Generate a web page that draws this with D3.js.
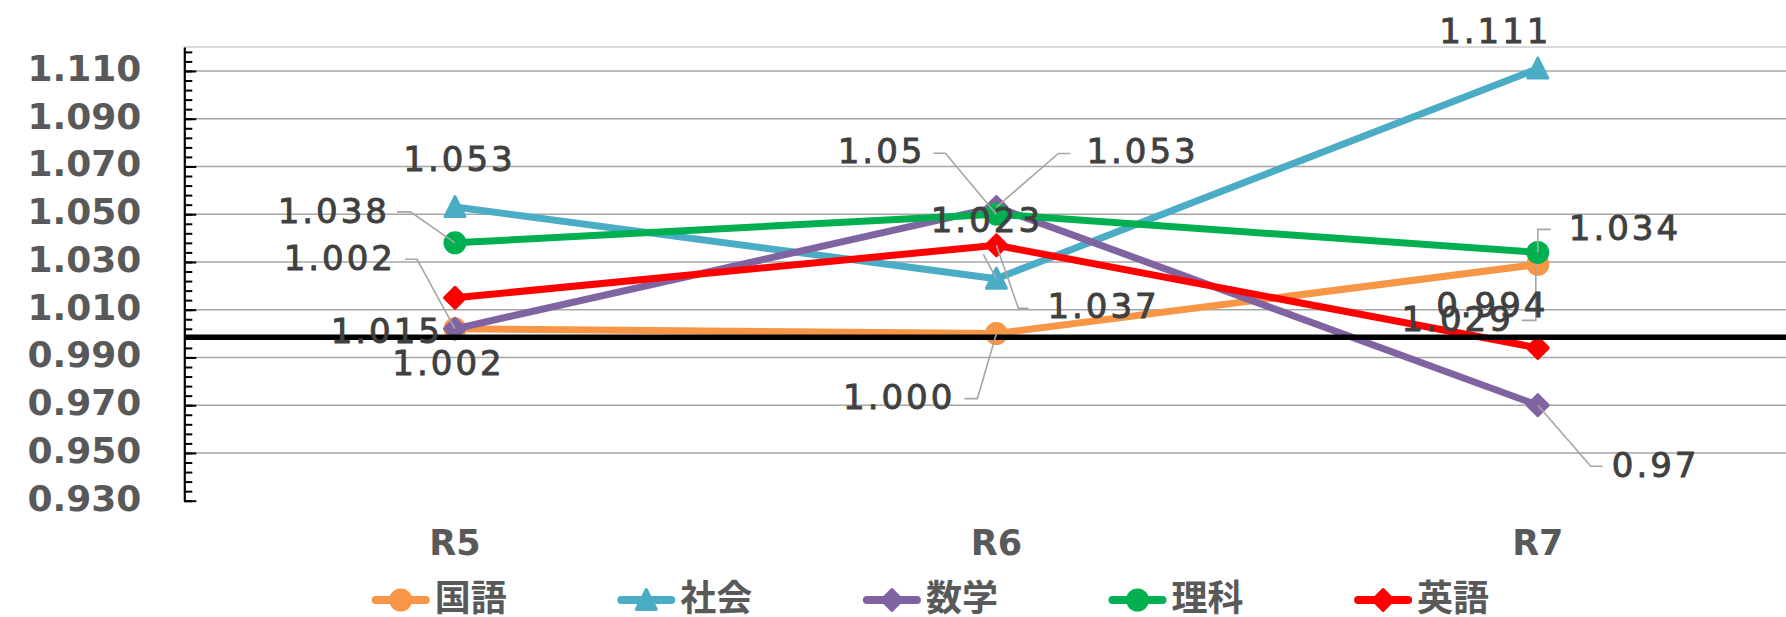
<!DOCTYPE html>
<html>
<head>
<meta charset="utf-8">
<script src="https://cdn.jsdelivr.net/npm/d3@7"></script>
<style>
  html, body { margin: 0; padding: 0; background: #fff; }
  svg { display: block; }
</style>
</head>
<body>
<script>
// ---- data ----
var categories = ["R5", "R6", "R7"];
var seriesNames = ["国語", "社会", "数学", "理科", "英語"];

var kokugo = [1.002, 1.000, 1.029];
var shakai = [1.053, 1.023, 1.111];
var sugaku = [1.002, 1.053, 0.970];
var rika   = [1.038, 1.050, 1.034];
var eigo   = [1.015, 1.037, 0.994];

// label texts as shown in the chart
var kokugoLabels = ["1.002", "1.000", "1.029"];
var shakaiLabels = ["1.053", "1.023", "1.111"];
var sugakuLabels = ["1.002", "1.053", "0.97"];
var rikaLabels   = ["1.038", "1.05", "1.034"];
var eigoLabels   = ["1.015", "1.037", "0.994"];

var yTicks = [0.930, 0.950, 0.970, 0.990, 1.010, 1.030, 1.050, 1.070, 1.090, 1.110];
var yMin = 0.93;
var yMax = 1.12;
var minorStep = 0.004;
var baseLine = 0.9985; // thick black reference line

// ---- layout ----
var W = 1786, H = 617;
var plotLeft = 184.3, plotRight = 1808.5, plotTop = 47.1, plotBottom = 500.7;
var gridColor = "#A6A6A6";
var labelColor = "#404040";
var axisTextColor = "#595959";
var numFont = "'DejaVu Sans', sans-serif";
var cjkFont = "'Noto Sans CJK JP', sans-serif";

var series = [
    {name: seriesNames[0], values: kokugo, labels: kokugoLabels, color: "#F79646", marker: "circle"},
    {name: seriesNames[1], values: shakai, labels: shakaiLabels, color: "#4BACC6", marker: "triangle"},
    {name: seriesNames[2], values: sugaku, labels: sugakuLabels, color: "#8064A2", marker: "diamond"},
    {name: seriesNames[3], values: rika,   labels: rikaLabels,   color: "#00B050", marker: "circle"},
    {name: seriesNames[4], values: eigo,   labels: eigoLabels,   color: "#FF0000", marker: "diamond"}
];

// where each data label sits relative to its point (a = anchor of the ink box)
var labelPos = {
    "国語": [
        {a: "middle", dx: -8, dy: 46},
        {a: "end", dx: -44, dy: 75, leader: [[0, 0], [-19, 65], [-32, 65]]},
        {a: "end", dx: -27, dy: 67, leader: [[-2, 0], [-2, 56], [-16, 56]]}
    ],
    "社会": [
        {a: "middle", dx: 3, dy: -36},
        {a: "middle", dx: -11, dy: -47, leader: [[0, 0], [-13, -24]]},
        {a: "middle", dx: -44, dy: -26}
    ],
    "数学": [
        {a: "end", dx: -62, dy: -59, leader: [[0, 0], [-38, -69.5], [-50, -69.5]]},
        {a: "start", dx: 90, dy: -44, leader: [[0, 0], [62, -53.6], [74, -53.6]]},
        {a: "start", dx: 74, dy: 72, leader: [[0, 0], [53, 61], [65, 61]]}
    ],
    "理科": [
        {a: "end", dx: -68, dy: -20, leader: [[0, 0], [-44.6, -31], [-58, -31]]},
        {a: "end", dx: -74, dy: -51, leader: [[0, 0], [-51, -61], [-63, -61]]},
        {a: "start", dx: 31, dy: -12, leader: [[0, 0], [0, -23], [13, -23]]}
    ],
    "英語": [
        {a: "end", dx: -15, dy: 45.5},
        {a: "start", dx: 51, dy: 73, leader: [[0, 0], [22, 63], [32, 63]]},
        {a: "middle", dx: -47, dy: -31}
    ]
};

var svg = d3.select("body").append("svg")
    .attr("width", W)
    .attr("height", H)
    .style("background-color", "#fff");

var x = d3.scaleBand().domain(categories).range([plotLeft, plotRight]);
var y = d3.scaleLinear().domain([yMin, yMax]).range([plotBottom, plotTop]);
var cx = function (c) { return x(c) + x.bandwidth() / 2; };

/**
 * gridlines
 */
svg.append("line")
    .attr("x1", plotLeft).attr("x2", W)
    .attr("y1", y(yMax)).attr("y2", y(yMax))
    .style("stroke", "#D9D9D9").style("stroke-width", 2);

svg.append("g").selectAll("line")
    .data(yTicks.slice(1))
    .enter().append("line")
    .attr("x1", plotLeft).attr("x2", W)
    .attr("y1", function (d) { return y(d); })
    .attr("y2", function (d) { return y(d); })
    .style("stroke", gridColor)
    .style("stroke-width", 1.6);

/**
 * y axis with minor ticks
 */
var minorTicks = d3.range(0, Math.round((yMax - yMin) / minorStep))
    .map(function (i) { return yMin + i * minorStep; });

var minorAxis = svg.append("g")
    .attr("transform", "translate(" + plotLeft + ",0)")
    .call(d3.axisLeft(y).tickValues(minorTicks).tickSize(-8).tickSizeOuter(0).tickFormat(""));
minorAxis.selectAll(".tick line").style("stroke", "#000").style("stroke-width", 2);
minorAxis.select(".domain").remove();

var yAxis = svg.append("g")
    .attr("transform", "translate(" + plotLeft + ",0)")
    .call(d3.axisLeft(y).tickValues(yTicks).tickSize(-12).tickSizeOuter(0)
        .tickPadding(43).tickFormat(d3.format(".3f")));
yAxis.select(".domain").style("stroke", "#000").style("stroke-width", 2.2);
yAxis.selectAll(".tick line").style("stroke", "#000").style("stroke-width", 2);
yAxis.selectAll(".tick text")
    .attr("dy", null)
    .attr("y", 9.5)
    .style("font-family", numFont)
    .style("font-size", "36px")
    .style("font-weight", "bold")
    .style("fill", axisTextColor);

/**
 * x axis labels
 */
var xAxis = svg.append("g")
    .attr("transform", "translate(0," + plotBottom + ")")
    .call(d3.axisBottom(x).tickSize(0).tickPadding(0));
xAxis.select(".domain").remove();
xAxis.selectAll(".tick text")
    .attr("dy", null)
    .attr("y", 54)
    .style("font-family", numFont)
    .style("font-size", "35px")
    .style("font-weight", "bold")
    .style("fill", axisTextColor);

/**
 * markers
 */
var markerPath = function (type) {
    if (type === "circle") return d3.symbol(d3.symbolCircle, Math.PI * 10 * 10)();
    if (type === "triangle") return "M0,-10.5L10,9.5L-10,9.5Z";
    return "M0,-10.5L10.5,0L0,10.5L-10.5,0Z";
};

var line = d3.line()
    .x(function (d, i) { return cx(categories[i]); })
    .y(function (d) { return y(d); });

series.forEach(function (s) {
    var g = svg.append("g");
    g.append("path")
        .datum(s.values)
        .attr("d", line)
        .style("fill", "none")
        .style("stroke", s.color)
        .style("stroke-width", 7)
        .style("stroke-linejoin", "round");
    g.selectAll("path.mk")
        .data(s.values)
        .enter().append("path")
        .attr("class", "mk")
        .attr("d", markerPath(s.marker))
        .attr("transform", function (d, i) {
            return "translate(" + cx(categories[i]) + "," + y(d) + ")";
        })
        .style("fill", s.color)
        .style("stroke", s.color)
        .style("stroke-width", 3)
        .style("stroke-linejoin", "round");
});

// thick black line sits over the series
svg.append("line")
    .attr("x1", plotLeft).attr("x2", W)
    .attr("y1", y(baseLine)).attr("y2", y(baseLine))
    .style("stroke", "#000")
    .style("stroke-width", 5.5);

/**
 * data labels + leader lines
 */
var labelLayer = svg.append("g");
var ls = 3; // letter spacing of data labels

series.forEach(function (s) {
    s.values.forEach(function (v, i) {
        var p = labelPos[s.name][i];
        var px = cx(categories[i]);
        var py = y(v);
        if (p.leader) {
            labelLayer.append("polyline")
                .attr("points", p.leader.map(function (q) {
                    return (px + q[0]) + "," + (py + q[1]);
                }).join(" "))
                .style("fill", "none")
                .style("stroke", gridColor)
                .style("stroke-width", 1.6);
        }
        var t = labelLayer.append("text")
            .attr("y", py + p.dy)
            .style("font-family", numFont)
            .style("font-size", "34px")
            .style("letter-spacing", ls + "px")
            .style("fill", labelColor)
            .style("stroke", labelColor)
            .style("stroke-width", 0.9)
            .text(s.labels[i]);
        var w = t.node().getComputedTextLength() - ls;
        var ax = px + p.dx;
        if (p.a === "end") ax -= w;
        else if (p.a === "middle") ax -= w / 2;
        t.attr("x", ax);
    });
});

/**
 * legend
 */
var legendX = d3.scaleBand().domain(seriesNames).range([371.7, 371.7 + 5 * 245.6]);
var legendY = 600;

series.forEach(function (s) {
    var lx = legendX(s.name);
    var g = svg.append("g");
    g.append("line")
        .attr("x1", lx + 4).attr("x2", lx + 54)
        .attr("y1", legendY).attr("y2", legendY)
        .style("stroke", s.color)
        .style("stroke-width", 8)
        .style("stroke-linecap", "round");
    g.append("path")
        .attr("d", markerPath(s.marker))
        .attr("transform", "translate(" + (lx + 29) + "," + legendY + ")")
        .style("fill", s.color)
        .style("stroke", s.color)
        .style("stroke-width", 3)
        .style("stroke-linejoin", "round");
    g.append("text")
        .attr("x", lx + 63)
        .attr("y", 611)
        .style("font-family", cjkFont)
        .style("font-size", "36px")
        .style("font-weight", "bold")
        .style("fill", axisTextColor)
        .text(s.name);
});
</script>
</body>
</html>
